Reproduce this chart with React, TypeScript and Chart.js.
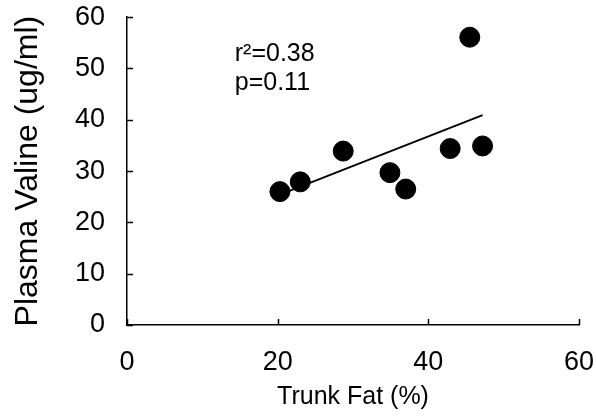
import React, { useEffect, useRef } from "react";
import { Chart, registerables } from "chart.js";

Chart.register(...registerables);

const trunkFat = [20.3, 23.0, 28.7, 34.9, 37.0, 42.9, 47.2, 45.5];
const plasmaValine = [26.0, 27.9, 33.9, 29.7, 26.5, 34.4, 34.9, 56.1];
const trendX = [20.3, 47.2];
const trendY = [25.4, 40.9];
const xTicks = [0, 20, 40, 60];
const yTicks = [0, 10, 20, 30, 40, 50, 60];
const annotationLines = ["r\u00B2=0.38", "p=0.11"];
const annotationPos = { x: 14.3, y: 51.5 };

const FONT = "'Liberation Sans', Arial, sans-serif";

const insideTicks = {
  id: "insideTicks",
  afterDraw(chart: any) {
    const { ctx, chartArea, scales } = chart;
    ctx.save();
    ctx.strokeStyle = "#000";
    ctx.lineWidth = 1.5;
    const len = 6;
    yTicks.forEach((v) => {
      const y = Math.round(scales.y.getPixelForValue(v)) + 0.5;
      ctx.beginPath();
      ctx.moveTo(chartArea.left, y);
      ctx.lineTo(chartArea.left + len, y);
      ctx.stroke();
    });
    xTicks.forEach((v) => {
      const x = Math.round(scales.x.getPixelForValue(v)) + 0.5;
      ctx.beginPath();
      ctx.moveTo(x, chartArea.bottom);
      ctx.lineTo(x, chartArea.bottom - len);
      ctx.stroke();
    });
    ctx.restore();
  },
};

const annotation = {
  id: "annotation",
  afterDraw(chart: any) {
    const { ctx, scales } = chart;
    ctx.save();
    ctx.fillStyle = "#000";
    ctx.font = `25px ${FONT}`;
    ctx.textAlign = "left";
    ctx.textBaseline = "alphabetic";
    const x = scales.x.getPixelForValue(annotationPos.x);
    const y = scales.y.getPixelForValue(annotationPos.y);
    annotationLines.forEach((t, i) => ctx.fillText(t, x, y + i * 29));
    ctx.restore();
  },
};

export default function App() {
  const ref = useRef<HTMLCanvasElement>(null);
  useEffect(() => {
    if (!ref.current) return;
    const chart = new Chart(ref.current, {
      type: "scatter",
      data: {
        datasets: [
          {
            type: "line",
            data: trendX.map((x, i) => ({ x, y: trendY[i] })),
            borderColor: "#000",
            borderWidth: 1.8,
            pointRadius: 0,
            showLine: true,
            fill: false,
            order: 2,
          } as any,
          {
            data: trunkFat.map((x, i) => ({ x, y: plasmaValine[i] })),
            backgroundColor: "#000",
            borderColor: "#000",
            pointRadius: 10,
            pointHoverRadius: 10,
            order: 1,
          },
        ],
      },
      options: {
        animation: false,
        responsive: false,
        events: [],
        layout: { padding: { top: 0, right: 17, left: 0, bottom: 0 } },
        plugins: { legend: { display: false }, tooltip: { enabled: false } },
        scales: {
          x: {
            type: "linear",
            min: 0,
            max: 60,
            afterBuildTicks: (s: any) => {
              s.ticks = xTicks.map((v) => ({ value: v }));
            },
            afterFit: (s: any) => {
              s.height = 94;
            },
            grid: { display: false, drawTicks: true, tickLength: 20 },
            border: { display: true, color: "#000", width: 1.5 },
            ticks: {
              color: "#000",
              font: { family: FONT, size: 27 },
              padding: 1,
              maxRotation: 0,
            },
            title: {
              display: true,
              text: "Trunk Fat (%)",
              color: "#000",
              font: { family: FONT, size: 25 },
              padding: { top: 0, bottom: 7 },
            },
          },
          y: {
            type: "linear",
            min: 0,
            max: 60,
            afterBuildTicks: (s: any) => {
              s.ticks = yTicks.map((v) => ({ value: v }));
            },
            afterFit: (s: any) => {
              s.width = 127;
            },
            grid: { display: false, drawTicks: true, tickLength: 21 },
            border: { display: true, color: "#000", width: 1.5 },
            ticks: {
              color: "#000",
              font: { family: FONT, size: 27 },
              padding: 1,
            },
            title: {
              display: true,
              text: "Plasma Valine (ug/ml)",
              color: "#000",
              font: { family: FONT, size: 32 },
              padding: { top: 9, bottom: 0 },
            },
          },
        },
      },
      plugins: [insideTicks, annotation],
    });
    return () => chart.destroy();
  }, []);
  return (
    <div style={{ position: "fixed", left: 0, top: 0, width: 596, height: 419, background: "#fff" }}>
      <canvas ref={ref} width={596} height={419} style={{ display: "block" }} />
    </div>
  );
}
